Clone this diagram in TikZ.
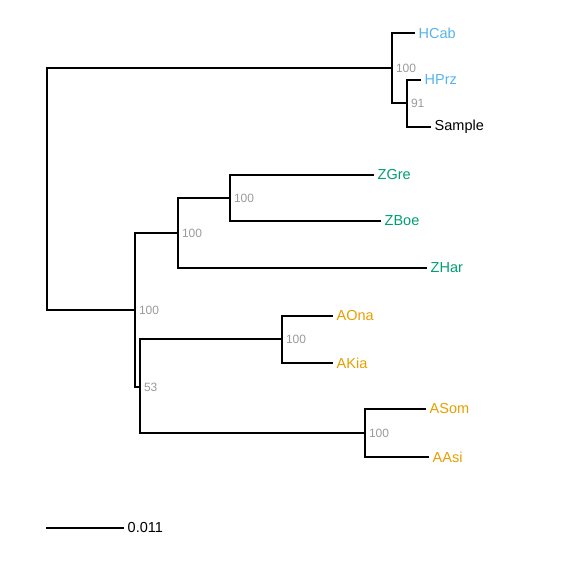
\documentclass[tikz,border=0pt]{standalone}
\usepackage{fontspec}
\setmainfont{Liberation Sans}
\usepackage{xcolor}
\definecolor{hcol}{HTML}{56B4E9}
\definecolor{zcol}{HTML}{009E73}
\definecolor{acol}{HTML}{E69F00}
\definecolor{bcol}{HTML}{9A9A9A}
\begin{document}
\begin{tikzpicture}[
    x=1pt, y=-1pt,
    branch/.style={line width=1.9pt, line cap=rect},
    tip/.style={anchor=west, inner sep=4.5pt, font=\fontsize{14.5}{15}\selectfont},
    boot/.style={anchor=west, inner sep=3.8pt, text=bcol, font=\fontsize{12}{13}\selectfont}
]
\useasboundingbox (0,0) rectangle (576,576);

% internal nodes
\coordinate (root) at (47,189);
\coordinate (nH) at (392,68);
\coordinate (nHS) at (407,103);
\coordinate (nZA) at (135,310);
\coordinate (nZ) at (178,233);
\coordinate (nZGB) at (230,198);
\coordinate (nA) at (140,387);
\coordinate (nAOK) at (282,339);
\coordinate (nAS) at (365,433);

% tips
\coordinate (tHCab) at (414,33);
\coordinate (tHPrz) at (420,80);
\coordinate (tSample) at (430,127);
\coordinate (tZGre) at (373,175);
\coordinate (tZBoe) at (380,221);
\coordinate (tZHar) at (426,268);
\coordinate (tAOna) at (332,316);
\coordinate (tAKia) at (332,363);
\coordinate (tASom) at (425,409);
\coordinate (tAAsi) at (428,457);

\draw[branch] (nH) -| (root) |- (nZA);
\draw[branch] (tHCab) -| (nH) |- (nHS);
\draw[branch] (tHPrz) -| (nHS) |- (tSample);
\draw[branch] (nZ) -| (nZA) |- (nA);
\draw[branch] (nZGB) -| (nZ) |- (tZHar);
\draw[branch] (tZGre) -| (nZGB) |- (tZBoe);
\draw[branch] (nAOK) -| (nA) |- (nAS);
\draw[branch] (tAOna) -| (nAOK) |- (tAKia);
\draw[branch] (tASom) -| (nAS) |- (tAAsi);

\node[tip, text=hcol] (HCab) at (tHCab) {HCab};
\node[tip, text=hcol] (HPrz) at (tHPrz) {HPrz};
\node[tip] (Sample) at (tSample) {Sample};
\node[tip, text=zcol] (ZGre) at (tZGre) {ZGre};
\node[tip, text=zcol] (ZBoe) at (tZBoe) {ZBoe};
\node[tip, text=zcol] (ZHar) at (tZHar) {ZHar};
\node[tip, text=acol] (AOna) at (tAOna) {AOna};
\node[tip, text=acol] (AKia) at (tAKia) {AKia};
\node[tip, text=acol] (ASom) at (tASom) {ASom};
\node[tip, text=acol] (AAsi) at (tAAsi) {AAsi};

\node[boot] (bH) at (nH) {100};
\node[boot] (bHS) at (nHS) {91};
\node[boot] (bZA) at (nZA) {100};
\node[boot] (bZ) at (nZ) {100};
\node[boot] (bZGB) at (nZGB) {100};
\node[boot] (bA) at (nA) {53};
\node[boot] (bAOK) at (nAOK) {100};
\node[boot] (bAS) at (nAS) {100};

% scale bar
\coordinate (sbL) at (47,528);
\coordinate (sbR) at (123,528);
\draw[branch] (sbL) -- (sbR);
\node[tip] (sbText) at (sbR) {0.011};
\end{tikzpicture}
\end{document}
